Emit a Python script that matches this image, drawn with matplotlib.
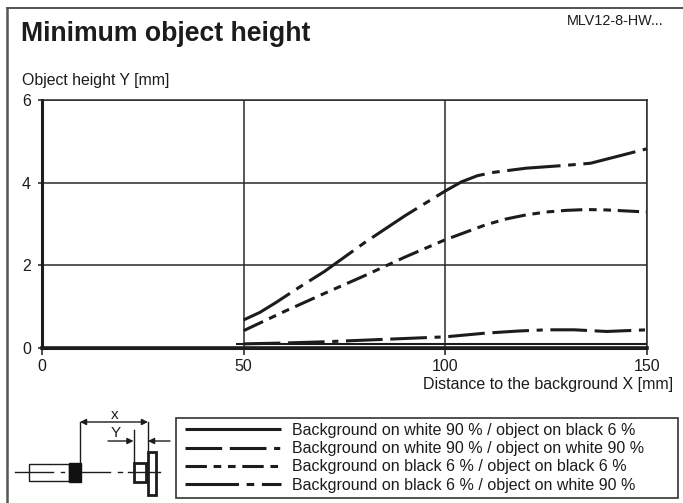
import matplotlib
matplotlib.use('Agg')
import matplotlib.pyplot as plt
from matplotlib.patches import Rectangle

plt.rcParams['font.family'] = ['Liberation Sans', 'DejaVu Sans']

W, H = 683, 503
INK = '#1c1c1c'

x_ticks = [0, 50, 100, 150]
y_ticks = [0, 2, 4, 6]

x_black = [0, 50, 100, 150]
y_black = [0.01, 0.01, 0.01, 0.01]

x_black2 = [48, 100, 150]
y_black2 = [0.09, 0.09, 0.09]

x_white_white = [50, 60, 70, 80, 90, 100, 110, 118, 125, 132, 140, 150]
y_white_white = [0.1, 0.12, 0.15, 0.19, 0.23, 0.27, 0.36, 0.41, 0.44, 0.44, 0.40, 0.44]

x_black_black = [50, 55, 60, 70, 80, 90, 100, 105, 110, 115, 120, 125, 130, 135, 140, 150]
y_black_black = [0.42, 0.65, 0.88, 1.32, 1.75, 2.2, 2.62, 2.8, 2.98, 3.12, 3.22, 3.29, 3.33, 3.35, 3.34, 3.29]

x_black_white = [50, 54, 58, 63, 70, 80, 90, 100, 104, 108, 112, 120, 130, 136, 142, 150]
y_black_white = [0.68, 0.86, 1.1, 1.42, 1.85, 2.55, 3.2, 3.8, 4.02, 4.17, 4.25, 4.35, 4.42, 4.47, 4.62, 4.82]

labels = ['Background on white 90 % / object on black 6 %',
          'Background on white 90 % / object on white 90 %',
          'Background on black 6 % / object on black 6 %',
          'Background on black 6 % / object on white 90 %']


def fx(px):
    return px / W


def fy(py):
    return 1 - py / H


fig = plt.figure(figsize=(W / 100, H / 100), dpi=100)

# overlay in pixel coordinates for the frame and the little sensor sketch
bg = fig.add_axes([0, 0, 1, 1])
bg.set_xlim(0, W)
bg.set_ylim(H, 0)
bg.axis('off')
bg.plot([7, 683], [8, 8], color='#444444', lw=1.3)
bg.plot([7, 7], [8, 503], color='#555555', lw=1.8)
bg.add_patch(Rectangle((176, 418), 502, 80, fill=False, ec='#333333', lw=1.2))

ax = fig.add_axes([fx(42), fy(348), fx(647 - 42), fy(100) - fy(348)])
ax.set_xlim(0, 150)
ax.set_ylim(0, 6)
ax.grid(True, color='#2a2a2a', lw=1.1)
ax.set_axisbelow(True)
ax.set_xticks(x_ticks)
ax.set_yticks(y_ticks)
ax.tick_params(axis='x', length=5, width=1.1, color=INK, labelsize=11.5, labelcolor=INK, pad=3)
ax.tick_params(axis='y', length=3, width=1.1, color=INK, labelsize=11.5, labelcolor=INK, pad=5)
for s in ['top', 'right']:
    ax.spines[s].set_linewidth(1.1)
    ax.spines[s].set_color('#2a2a2a')
ax.spines['left'].set_linewidth(2.2)
ax.spines['left'].set_color(INK)
ax.spines['bottom'].set_linewidth(2.6)
ax.spines['bottom'].set_color(INK)

line_kw = dict(color=INK, lw=2.2, solid_capstyle='butt', dash_capstyle='butt', clip_on=False)
dash_ww = (12, 2.5, 12, 2.5, 2, 2.5)
dash_bb = (7, 2.2, 2.5, 2.2, 2.5, 2.2)
dash_bw = (17.5, 2.5, 2.5, 2.5)
h1, = ax.plot(x_black, y_black, **line_kw)
ax.plot(x_black2, y_black2, color=INK, lw=1.5, solid_capstyle='butt', clip_on=False)
h2, = ax.plot(x_white_white, y_white_white, dashes=dash_ww, **line_kw)
h3, = ax.plot(x_black_black, y_black_black, dashes=dash_bb, **line_kw)
h4, = ax.plot(x_black_white, y_black_white, dashes=dash_bw, **line_kw)

fig.text(fx(21), fy(34), 'Minimum object height', fontsize=19.2, fontweight='bold',
         color=INK, va='center', ha='left')
fig.text(fx(663), fy(21), 'MLV12-8-HW...', fontsize=10.4, color=INK, va='center', ha='right')
fig.text(fx(22), fy(81), 'Object height Y [mm]', fontsize=11.4, color=INK, va='center', ha='left')
fig.text(fx(673), fy(385), 'Distance to the background X [mm]', fontsize=11.5, color=INK,
         va='center', ha='right')

leg = fig.legend([h1, h2, h3, h4], labels, loc='upper left',
                 bbox_to_anchor=(fx(185), fy(423)),
                 bbox_transform=fig.transFigure, borderaxespad=0, borderpad=0,
                 fontsize=11.5, handlelength=6.0, handletextpad=0.68, labelspacing=0.2,
                 frameon=False)
for t in leg.get_texts():
    t.set_color(INK)

# sensor sketch
sk = dict(color=INK, lw=1.0)
bg.add_patch(Rectangle((29, 464), 40, 17, fill=False, ec=INK, lw=1))
bg.add_patch(Rectangle((69, 463), 12, 19, fc='#111111', ec='#111111', lw=1))
bg.add_patch(Rectangle((134, 463), 12, 19, fill=False, ec=INK, lw=2))
bg.add_patch(Rectangle((148, 452), 7.5, 43, fill=False, ec=INK, lw=2))
bg.plot([15, 53], [472, 472], **sk)
bg.plot([61, 64], [472, 472], **sk)
bg.plot([82, 110], [472, 472], **sk)
bg.plot([118, 122], [472, 472], **sk)
bg.plot([128, 160], [472, 472], **sk)
bg.plot([80, 80], [463, 422], **sk)
bg.plot([148, 148], [452, 422], **sk)
bg.plot([133.5, 133.5], [463, 430], **sk)
bg.annotate('', xy=(80, 422), xytext=(148, 422),
            arrowprops=dict(arrowstyle='<|-|>', color=INK, lw=1, shrinkA=0, shrinkB=0, mutation_scale=9))
bg.annotate('', xy=(133.5, 441), xytext=(108, 441),
            arrowprops=dict(arrowstyle='-|>', color=INK, lw=1, shrinkA=0, shrinkB=0, mutation_scale=9))
bg.annotate('', xy=(148, 441), xytext=(170, 441),
            arrowprops=dict(arrowstyle='-|>', color=INK, lw=1, shrinkA=0, shrinkB=0, mutation_scale=9))
bg.text(115, 415, 'x', fontsize=11, color=INK, ha='center', va='center')
bg.text(116, 433, 'Y', fontsize=11, color=INK, ha='center', va='center')

fig.savefig('out.png', dpi=100)
